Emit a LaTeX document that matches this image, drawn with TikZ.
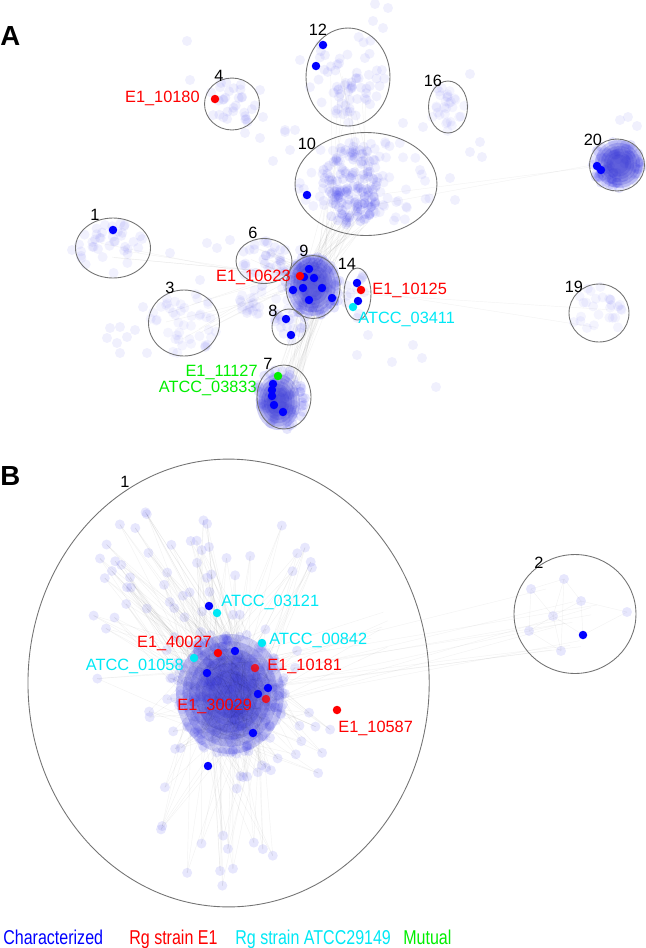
\documentclass[tikz,border=0pt]{standalone}
\usepackage{fontspec}
\setmainfont{Liberation Sans}
\newfontfamily\narrowfont[FakeStretch=0.8]{Liberation Sans}
\usetikzlibrary{shapes.geometric}
\definecolor{gblue}{RGB}{0,0,255}
\definecolor{gred}{RGB}{255,0,0}
\definecolor{gcyan}{RGB}{0,232,245}
\definecolor{ggreen}{RGB}{0,238,0}
\definecolor{dense}{RGB}{58,58,212}
\definecolor{halo}{RGB}{60,60,235}

% random faint dots inside an ellipse: cx cy rx ry count opacity
\newcommand\cloud[6]{%
  \foreach \k in {1,...,#5}{%
    \pgfmathsetmacro\ang{360*rnd}\pgfmathsetmacro\rad{sqrt(rnd)}%
    \fill[halo, opacity=#6] ({#1+#3*\rad*cos(\ang)},{#2+#4*\rad*sin(\ang)}) circle[radius=0.1cm];}}
% faint dots with wires into the big blob of panel B
\newcommand\starcloud[5]{%
  \foreach \k in {1,...,#5}{%
    \pgfmathsetmacro\ang{360*rnd}\pgfmathsetmacro\rad{sqrt(rnd)}%
    \pgfmathsetmacro\px{#1+#3*\rad*cos(\ang)}\pgfmathsetmacro\py{#2+#4*\rad*sin(\ang)}%
    \foreach \j in {1,2,3}{%
      \pgfmathsetmacro\ba{360*rnd}\pgfmathsetmacro\br{sqrt(rnd)}%
      \draw[wire] (\px,\py) -- ({230+44*\br*cos(\ba)},{693+50*\br*sin(\ba)});}%
    \fill[halo, opacity=0.12] (\px,\py) circle[radius=0.1cm];}}
% wires between two ellipses: cx cy rx ry dx dy drx dry count
\newcommand\fan[9]{%
  \foreach \k in {1,...,#9}{%
    \pgfmathsetmacro\aa{360*rnd}\pgfmathsetmacro\ra{sqrt(rnd)}%
    \pgfmathsetmacro\ab{360*rnd}\pgfmathsetmacro\rb{sqrt(rnd)}%
    \draw[wire] ({#1+#3*\ra*cos(\aa)},{#2+#4*\ra*sin(\aa)}) -- ({#5+#7*\rb*cos(\ab)},{#6+#8*\rb*sin(\ab)});}}
% soft dense core: cx cy rx ry
\newcommand\core[4]{%
  \foreach \s in {1,0.88,0.76,0.64,0.52,0.4}
    \fill[dense, opacity=0.24] (#1,#2) ellipse[x radius=\s*#3*0.02cm, y radius=\s*#4*0.02cm];}
% cluster outline: name cx cy rx ry
\newcommand\hull[5]{\node[hull, minimum width=#4*0.04cm, minimum height=#5*0.04cm] (#1) at (#2,#3) {};}

\begin{document}
\begin{tikzpicture}[x=0.02cm, y=-0.02cm,
  hull/.style={draw=black!55, line width=0.5pt, ellipse, inner sep=0pt},
  gene/.style={circle, inner sep=0pt, minimum size=0.17cm},
  char/.style={gene, fill=gblue},
  rge/.style={gene, fill=gred},
  atcc/.style={gene, fill=gcyan},
  both/.style={gene, fill=ggreen},
  wire/.style={draw=black, opacity=0.05, line width=0.25pt},
  tag/.style={inner sep=0pt, font=\fontsize{9.3}{11}\selectfont},
  num/.style={tag, anchor=base},
  panel/.style={inner sep=0pt, anchor=base west, font=\fontsize{15.7}{18}\selectfont\bfseries},
  key/.style={inner sep=0pt, anchor=base west, font=\narrowfont\fontsize{11.4}{13}\selectfont}]
\useasboundingbox (0,0) rectangle (646,948);
\pgfmathsetseed{42}

% ---- panel A: wires
\fan{313}{275}{18}{14}{345}{215}{25}{20}{40}
\fan{285}{390}{15}{15}{315}{300}{18}{14}{30}
\fan{313}{280}{15}{15}{262}{262}{20}{15}{12}
\fan{355}{200}{30}{20}{350}{90}{25}{30}{10}
\fan{366}{200}{20}{15}{615}{165}{10}{10}{2}
\fan{313}{280}{15}{15}{600}{313}{15}{15}{2}
\fan{300}{270}{15}{15}{113}{248}{20}{15}{4}
\fan{300}{280}{15}{15}{184}{323}{25}{20}{8}

% ---- panel A: faint members
\cloud{348}{77}{40}{46}{40}{0.08}
\cloud{350}{95}{18}{22}{25}{0.08}
\cloud{232}{104}{25}{24}{30}{0.08}
\cloud{448}{107}{18}{24}{30}{0.06}
\cloud{366}{184}{68}{48}{80}{0.07}
\cloud{350}{175}{28}{30}{70}{0.1}
\cloud{352}{205}{25}{20}{60}{0.12}
\cloud{113}{248}{35}{28}{40}{0.07}
\cloud{264}{261}{27}{21}{35}{0.08}
\cloud{357}{294}{12}{24}{12}{0.08}
\cloud{599}{313}{28}{27}{28}{0.06}
\cloud{184}{323}{34}{31}{45}{0.06}
\cloud{289}{327}{16}{17}{18}{0.08}
\cloud{265}{300}{30}{15}{25}{0.06}
\foreach \p in {(187,41),(190,80),(263,117),(245,133),(260,138),(285,132),(273,161),(290,150),
  (375,4),(388,8),(373,21),(383,28),(470,74),(403,123),(423,127),(480,142),(482,157),(470,152),
  (450,178),(620,120),(628,117),(637,126),(285,130),(260,90),(72,250),(110,328),(120,327),
  (107,338),(117,343),(127,337),(135,330),(120,353),(147,353),(143,307),(207,243),(217,248),
  (230,240),(200,280),(240,300),(247,313),(253,303),(170,253),(357,355),(392,362),(413,345),
  (422,358),(436,387),(368,335),(300,250),(295,130),(455,200),(300,60),(420,170)}
  \fill[halo, opacity=0.08] \p circle[radius=0.1cm];

% dense clusters
\cloud{313}{287}{28}{32}{90}{0.14}
\core{313}{285}{26}{31}
\cloud{617}{165}{25}{24}{80}{0.14}
\core{619}{164}{24}{24}
\cloud{280}{400}{27}{31}{80}{0.13}
\core{278}{402}{22}{28}

% outlines
\hull{c12}{348}{77}{42}{49}
\hull{c4}{232}{104}{27.5}{26}
\hull{c16}{448}{107}{19.5}{26}
\hull{c10}{366}{184}{71}{51.5}
\hull{c20}{617}{165}{27.5}{26}
\hull{c1}{113}{248}{37.5}{30}
\hull{c6}{264}{261}{28}{22.5}
\hull{c9}{313}{287}{27}{31.5}
\hull{c14}{357.5}{294}{13.5}{26}
\hull{c19}{599}{313}{30}{29}
\hull{c3}{184}{323}{35.5}{33}
\hull{c8}{289}{327}{17}{18}
\hull{c7}{284}{397}{27}{32}

\node[num] (n12) at (318,35) {12};
\node[num] (n4) at (219,81) {4};
\node[num] (n16) at (433,86) {16};
\node[num] (n10) at (307,149) {10};
\node[num] (n20) at (593,145) {20};
\node[num] (n1) at (95,220) {1};
\node[num] (n6) at (253,238) {6};
\node[num] (n9) at (304,256) {9};
\node[num] (n14) at (347,269) {14};
\node[num] (n19) at (574,292) {19};
\node[num] (n3) at (170,293) {3};
\node[num] (n8) at (273,316) {8};
\node[num] (n7) at (268,369) {7};

% highlighted genes, panel A
\node[char] (a12a) at (323,45) {};
\node[char] (a12b) at (316,66) {};
\node[rge] (a4) at (215,99) {};
\node[char] (a10) at (307,195) {};
\node[char] (a20a) at (597,166) {};
\node[char] (a20b) at (601,170) {};
\node[char] (a1) at (113,230) {};
\foreach \p in {(309,269),(304,277),(314,278),(293,290),(303,288),(322,288),(309,300),(332,298)}
  \node[char] at \p {};
\node[rge] (a9r) at (300,276) {};
\node[char] (a14a) at (357,283) {};
\node[rge] (a14r) at (361,290) {};
\node[char] (a14b) at (358,301) {};
\node[atcc] (a14c) at (353,307) {};
\node[char] (a8a) at (286,319) {};
\node[char] (a8b) at (291,335) {};
\foreach \p in {(273,384),(272,390),(272,396),(274,405),(283,412)}
  \node[char] at \p {};
\node[both] (a7g) at (278,376) {};

\node[tag, anchor=base east, text=gred] (t10180) at (200,102) {E1\_10180};
\node[tag, anchor=base east, text=gred] (t10623) at (291,281) {E1\_10623};
\node[tag, anchor=base west, text=gred] (t10125) at (372,294) {E1\_10125};
\node[tag, anchor=base west, text=gcyan] (t03411) at (358,323) {ATCC\_03411};
\node[tag, anchor=base east, text=ggreen] (t11127) at (258,376) {E1\_11127};
\node[tag, anchor=base east, text=ggreen] (t03833) at (257,392) {ATCC\_03833};

\node[panel] (pa) at (0,45) {A};

% ---- panel B
\starcloud{175}{560}{80}{60}{38}
\starcloud{230}{693}{85}{90}{55}
\starcloud{210}{830}{75}{60}{14}
\starcloud{320}{770}{35}{45}{5}
\starcloud{95}{640}{30}{45}{4}
\starcloud{290}{560}{25}{40}{6}
\fan{230}{693}{40}{40}{560}{615}{40}{40}{12}
\fan{230}{693}{40}{40}{380}{640}{10}{30}{6}
\cloud{230}{693}{56}{62}{280}{0.12}
\core{230}{694}{54}{60}
\fan{230}{693}{48}{54}{230}{693}{48}{54}{150}

% cluster 2
\foreach \xa/\ya/\xb/\yb in {531/589/564/579, 564/579/581/601, 531/589/553/616, 564/579/553/616,
  553/616/581/601, 529/631/553/616, 529/631/561/651, 553/616/561/651, 581/601/627/612,
  583/635/553/616, 583/635/627/612, 564/579/561/651, 581/601/583/635, 531/589/529/631}
  \draw[wire] (\xa,\ya) -- (\xb,\yb);
\foreach \p in {(531,589),(564,579),(581,601),(553,616),(529,631),(561,651),(627,612)}
  \fill[halo, opacity=0.12] \p circle[radius=0.1cm];

\hull{b1}{228.6}{683}{200.7}{224}
\hull{b2}{575}{614}{61}{59.5}
\node[num] (m1) at (125,487) {1};
\node[num] (m2) at (539,568) {2};

\node[char] (b03121a) at (209,606) {};
\node[atcc] (b03121) at (217,613) {};
\node[rge] (b40027) at (218,653) {};
\node[char] (bb1) at (235,651) {};
\node[atcc] (b00842) at (262,643) {};
\node[atcc] (b01058) at (194,658) {};
\node[char] (bb2) at (207,673) {};
\node[rge, opacity=0.8] (b10181) at (255,668) {};
\node[char] (bb3) at (268,688) {};
\node[char] (bb4) at (258,694) {};
\node[rge, opacity=0.8] (b30029) at (266,699) {};
\node[char] (bb5) at (253,733) {};
\node[char] (bb6) at (208,766) {};
\node[rge] (b10587) at (337,710) {};
\node[char] (bb7) at (583,635) {};

\node[tag, anchor=base west, text=gcyan] (u03121) at (221,606) {ATCC\_03121};
\node[tag, anchor=base east, text=gred] (u40027) at (212,647) {E1\_40027};
\node[tag, anchor=base west, text=gcyan] (u00842) at (269,644) {ATCC\_00842};
\node[tag, anchor=base east, text=gcyan] (u01058) at (184,670) {ATCC\_01058};
\node[tag, anchor=base west, text=gred] (u10181) at (267,670) {E1\_10181};
\node[tag, anchor=base west, text=gred] (u30029) at (177,710) {E1\_30029};
\node[tag, anchor=base west, text=gred] (u10587) at (338,732) {E1\_10587};

\node[panel] (pb) at (0,485) {B};

% ---- legend
\node[key, text=gblue] (k1) at (3,944) {Characterized};
\node[key, text=gred] (k2) at (129,944) {Rg strain E1};
\node[key, text=gcyan] (k3) at (235,944) {Rg strain ATCC29149};
\node[key, text=ggreen] (k4) at (403,944) {Mutual};
\end{tikzpicture}
\end{document}
